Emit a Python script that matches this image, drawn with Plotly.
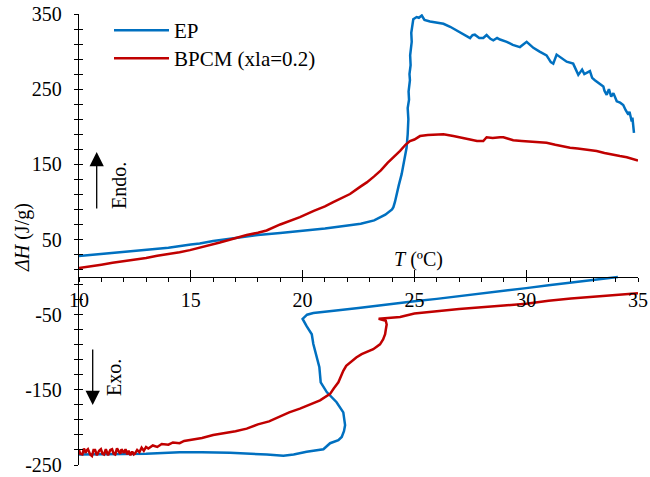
import plotly.graph_objects as go

# ---- EP: heating run (endotherm) ----
ep_heat_T = [10.0, 11.0, 12.0, 13.0, 14.0, 15.0, 15.4, 16.0, 16.9, 18.0, 19.0, 19.9, 21.0, 22.1,
             22.6, 23.2, 23.5, 23.7, 24.0, 24.06, 24.13, 24.2, 24.3, 24.43, 24.5, 24.58, 24.65,
             24.7, 24.73, 24.7, 24.76, 24.74, 24.8, 24.78, 24.83, 24.81, 24.86, 24.88, 24.86,
             24.92, 24.95, 25.1, 25.2, 25.33, 25.45, 25.7, 26.0, 26.3, 26.6, 27.04, 27.3, 27.49,
             27.6, 27.7, 27.9, 28.08, 28.23, 28.4, 28.53, 28.7, 28.83, 29.13, 29.4, 29.72, 30.02,
             30.2, 30.32, 30.6, 30.91, 31.1, 31.21, 31.36, 31.55, 31.81, 32.1, 32.25, 32.33, 32.5,
             32.6, 32.85, 32.95, 33.07, 33.25, 33.45, 33.5, 33.6, 33.7, 33.8, 33.9, 34.05, 34.2,
             34.34, 34.45, 34.57, 34.62, 34.72, 34.75, 34.82]
ep_heat_H = [28, 30.5, 33, 35.5, 39, 43.5, 44.6, 48, 52, 56, 58.5, 61, 64.5, 68.9,
             71, 75.4, 80, 83, 90, 93, 100, 110, 122, 137, 150, 163, 172,
             190, 210, 225, 236, 247, 262, 270, 282, 295, 305, 313, 325,
             339, 343, 346, 345, 348, 342, 340, 339, 337, 333, 326, 321, 318,
             322, 322.5, 318, 318, 322, 317, 315, 318, 316, 313, 309, 306, 313,
             308, 305, 300, 295, 286, 284, 296, 292, 286.5, 284, 275, 269, 276,
             270, 274, 265, 262, 258, 253.5, 248, 242.5, 250, 240, 244.7, 233.8, 232,
             229, 222, 216, 220, 207, 212, 192]

# ---- EP: cooling run (exotherm) ----
ep_cool_T = [34.1, 33.0, 32.0, 31.0, 30.0, 29.0, 28.0, 27.0, 26.0, 25.0, 24.36, 23.5, 22.5, 21.5,
             20.48, 20.2, 20.0, 20.18, 20.41, 20.48, 20.55, 20.63, 20.75, 20.78, 20.81, 21.08,
             21.52, 21.82, 21.9, 21.85, 21.75, 21.6, 21.23, 20.93, 20.33, 20.18, 19.6, 19.14,
             18.4, 17.5, 16.75, 15.5, 14.5, 13.0, 11.5, 10.0]
ep_cool_H = [0, -3.6, -7, -11, -14.7, -18.5, -22, -25.5, -29, -32, -34.5, -37.5, -41, -44.5,
             -47.8, -50, -55.7, -65.3, -76, -89, -98, -107, -120, -130, -140, -153,
             -166.5, -180, -197, -205, -212.7, -217, -221, -229, -231.5, -232.5, -236, -237.7,
             -236, -234.5, -233.7, -233, -233, -235, -236, -236]

# ---- BPCM (xla=0.2): heating run ----
bp_heat_T = [10.0, 10.5, 11.0, 11.5, 12.0, 12.43, 13.0, 13.5, 14.0, 14.5, 14.96, 15.41, 16.0,
             16.3, 16.9, 17.5, 18.0, 18.39, 19.0, 19.5, 19.88, 20.5, 21.0, 21.37, 21.8, 22.12,
             22.57, 22.87, 23.2, 23.5, 23.8, 24.1, 24.36, 24.6, 24.8, 25.0, 25.25, 25.6, 26.0,
             26.3, 26.74, 27.1, 27.49, 27.8, 28.08, 28.23, 28.5, 28.83, 28.98, 29.2, 29.42, 29.8,
             30.2, 30.6, 30.91, 31.3, 31.6, 31.96, 32.3, 32.7, 33.15, 33.5, 33.8, 34.19, 34.5,
             34.8, 35.0]
bp_heat_H = [12, 14, 16.5, 19, 21, 22.7, 25.5, 28.5, 30.5, 33, 35.9, 39, 44,
             46, 51, 56, 59, 62, 70, 75, 79.8, 88, 94, 99.6, 106, 110.5,
             120, 126, 134, 142, 152, 160, 168, 176, 181, 183, 187.6, 189, 189.7,
             190, 187.6, 185, 183, 181, 181, 186, 185, 186, 186, 184, 182, 181,
             180, 179.5, 178.8, 176, 174, 172, 171, 169.5, 167.8, 165, 163, 161, 159.5,
             157, 155]

# ---- BPCM (xla=0.2): cooling run ----
bp_cool_T = [35.0, 34.0, 33.0, 32.0, 31.0, 30.0, 29.0, 28.0, 27.0, 26.0, 25.55, 25.0, 24.36,
             24.0, 23.4, 23.72, 23.76, 23.72, 23.69, 23.6, 23.46, 23.16, 22.64, 22.4, 22.2,
             21.95, 21.82, 21.7, 21.6, 21.4, 21.23, 20.78, 20.3, 19.88, 19.4, 18.98, 18.5,
             18.0, 17.5, 17.0, 16.5, 16.0, 15.5, 15.0, 14.7, 14.5, 14.2, 14.0, 13.7, 13.5,
             13.3, 13.1, 13.0, 12.9, 12.8, 12.7, 12.6, 12.5, 12.45, 12.38, 12.3, 12.22, 12.15,
             12.08, 12.0, 11.9, 11.85, 11.8, 11.7, 11.62, 11.55, 11.48, 11.4, 11.3, 11.25, 11.2,
             11.12, 11.05, 10.98, 10.9, 10.8, 10.72, 10.65, 10.58, 10.5, 10.4, 10.33, 10.3,
             10.22, 10.15, 10.05, 10.0]
bp_cool_H = [-21.4, -23.5, -25.8, -28.5, -31.5, -35.4, -37.8, -40, -42.5, -45.5, -46.8, -48.5, -53,
             -54, -55.5, -58, -63, -70, -76, -83, -89.5, -96, -102.6, -107, -111.5,
             -118, -124.7, -132, -140, -148, -155.4, -164, -170, -175, -180, -186, -192,
             -196, -201.6, -205, -207, -210, -214, -217, -218, -221, -220, -223, -222, -226,
             -224, -228, -226, -231, -227, -233, -230, -235, -236, -232, -237, -231, -236,
             -229, -234, -229, -235, -233, -228, -236, -235, -229, -230, -237, -231, -229,
             -236, -235, -229, -231, -237, -230, -230, -238, -236, -229, -231, -234, -228,
             -236, -235, -230, -232]

series_names = ["EP", "BPCM (xla=0.2)"]
series_colors = ["#0070C0", "#C00000"]

# axis ticks: labelled values and the finer unlabelled marks between them
x_major = [10, 15, 20, 25, 30, 35]
x_minor_step = 1
y_major = [-250, -150, -50, 50, 150, 250, 350]
y_minor_step = 20

FONT = "Liberation Serif, Times New Roman, serif"
W, H = 650, 477
ML, MR, MT, MB = 79, 12, 14, 12
X_RANGE = [10, 35]
Y_RANGE = [-250, 350]


def px_to_paper(px, py):
    """Convert page pixel position to paper coordinates of the plot area."""
    return (px - ML) / (W - ML - MR), (H - MB - py) / (H - MT - MB)


x_all = list(range(X_RANGE[0], X_RANGE[1] + 1, x_minor_step))
x_text = [str(v) if v in x_major else "" for v in x_all]
y_all = list(range(Y_RANGE[0], Y_RANGE[1] + 1, y_minor_step))
y_text = [str(v) if v in y_major else "" for v in y_all]

fig = go.Figure()
fig.add_trace(go.Scatter(
    x=ep_heat_T + [None] + ep_cool_T, y=ep_heat_H + [None] + ep_cool_H,
    mode="lines", name=series_names[0], connectgaps=False, legend="legend",
    line=dict(color=series_colors[0], width=2.5)))
fig.add_trace(go.Scatter(
    x=bp_heat_T + [None] + bp_cool_T, y=bp_heat_H + [None] + bp_cool_H,
    mode="lines", name=series_names[1], connectgaps=False, legend="legend2",
    line=dict(color=series_colors[1], width=2.5)))
# empty trace that carries the overlaid axes (inner halves of the crossing ticks)
fig.add_trace(go.Scatter(x=[None], y=[None], xaxis="x2", yaxis="y2",
                         showlegend=False, hoverinfo="skip"))

x_zero = (0 - Y_RANGE[0]) / (Y_RANGE[1] - Y_RANGE[0])
tickfont = dict(family=FONT, size=20, color="black")
legend_common = dict(xanchor="left", yanchor="top", bgcolor="rgba(0,0,0,0)",
                     borderwidth=0, itemwidth=55,
                     font=dict(family=FONT, size=21, color="black"))

fig.update_layout(
    width=W, height=H, margin=dict(l=ML, r=MR, t=MT, b=MB, autoexpand=False),
    paper_bgcolor="white", plot_bgcolor="white",
    font=dict(family=FONT, size=20, color="black"),
    xaxis=dict(range=X_RANGE, anchor="free", position=x_zero, automargin=False,
               showline=True, linecolor="black", linewidth=1.3,
               showgrid=False, zeroline=False,
               tickmode="array", tickvals=x_all, ticktext=x_text,
               ticks="outside", ticklen=4, tickwidth=1.2, tickcolor="black",
               tickfont=tickfont, ticklabelstandoff=1, ticklabeloverflow="allow"),
    xaxis2=dict(range=X_RANGE, overlaying="x", anchor="free", position=x_zero,
                automargin=False, showline=False, showgrid=False, zeroline=False,
                tickmode="array", tickvals=x_major,
                ticks="inside", ticklen=7, tickwidth=1.3, tickcolor="black",
                showticklabels=False),
    yaxis=dict(range=Y_RANGE, anchor="x", automargin=False,
               showline=True, linecolor="black", linewidth=1.3,
               showgrid=False, zeroline=False,
               tickmode="array", tickvals=y_all, ticktext=y_text,
               ticks="outside", ticklen=4, tickwidth=1.2, tickcolor="black",
               tickfont=tickfont, ticklabelstandoff=8, ticklabeloverflow="allow"),
    yaxis2=dict(range=Y_RANGE, overlaying="y", anchor="x2", automargin=False,
                showline=False, showgrid=False, zeroline=False,
                tickmode="array", tickvals=y_all,
                ticks="inside", ticklen=4, tickwidth=1.2, tickcolor="black",
                showticklabels=False),
    legend=dict(x=px_to_paper(109, 0)[0], y=px_to_paper(0, 10)[1], **legend_common),
    legend2=dict(x=px_to_paper(109, 0)[0], y=px_to_paper(0, 38)[1], **legend_common),
    showlegend=True,
)

annotations = []


def label(text, px, py, angle=0, size=20):
    x, y = px_to_paper(px, py)
    annotations.append(dict(text=text, x=x, y=y, xref="paper", yref="paper",
                            xanchor="center", yanchor="middle", showarrow=False,
                            textangle=angle, font=dict(family=FONT, size=size, color="black")))


def arrow(px, py, dy):
    x, y = px_to_paper(px, py)
    annotations.append(dict(text="", x=x, y=y, xref="paper", yref="paper",
                            showarrow=True, ax=0, ay=dy, arrowhead=2, arrowsize=2.2,
                            arrowwidth=1.3, arrowcolor="black"))


# axis titles
label("<i>T</i> (ºC)", 418, 259)
label("<i>ΔH</i> (J/g)", 22, 238, angle=-90)
# endo / exo direction markers
label("Endo.", 119, 186, angle=-90)
label("Exo.", 114, 378, angle=-90)
arrow(96.7, 152, 58)
arrow(92.7, 405, -57)
fig.update_layout(annotations=annotations)

fig.write_html("out.html")
